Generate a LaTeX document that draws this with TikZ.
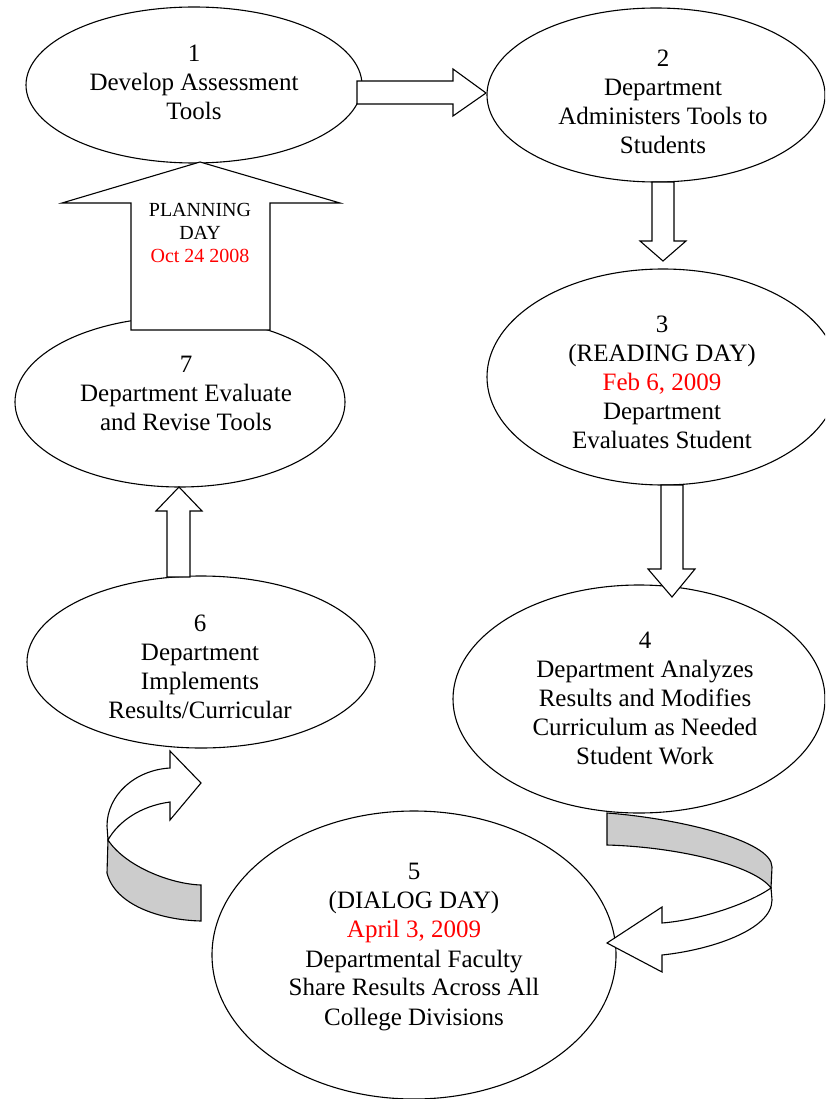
\documentclass[tikz,border=0pt]{standalone}
\usepackage{fontspec}
\setmainfont{Liberation Serif}
\usetikzlibrary{shapes.geometric}
\definecolor{ribbon}{RGB}{204,204,204}
\definecolor{datered}{RGB}{255,0,0}
\begin{document}
\begin{tikzpicture}[x=1pt,y=-1pt,line width=1.1pt,
  bubble/.style={draw,fill=white,ellipse,inner sep=0pt},
  txt/.style={align=center,inner sep=0pt,font=\fontsize{25}{29}\selectfont},
  smalltxt/.style={align=center,inner sep=0pt,font=\fontsize{20}{23}\selectfont},
  blockarrow/.style={draw,fill=white,line join=miter},
  backside/.style={draw,fill=ribbon,line join=miter}]
\useasboundingbox (0,0) rectangle (825,1099);
\clip (0,0) rectangle (825,1099);
% ellipses
\node[bubble,minimum width=336pt,minimum height=156pt] (e1) at (194,85) {};
\node[bubble,minimum width=338pt,minimum height=174pt] (e2) at (656,95) {};
\node[bubble,minimum width=352pt,minimum height=216pt] (e3) at (663,377) {};
\node[bubble,minimum width=372pt,minimum height=228pt] (e4) at (639,699) {};
\node[bubble,minimum width=404pt,minimum height=288pt] (e5) at (414,955) {};
\node[bubble,minimum width=348pt,minimum height=172pt] (e6) at (201,662) {};
\node[bubble,minimum width=330pt,minimum height=170pt] (e7) at (180,402) {};
% texts
\node[txt] (t1) at (194,82) {1\\Develop Assessment\\Tools};
\node[txt] (t2) at (663,102) {2\\Department\\Administers Tools to\\Students};
\node[txt] (t3) at (662,382) {3\\(READING DAY)\\\textcolor{datered}{Feb 6, 2009}\\Department\\Evaluates Student};
\node[txt] (t4) at (645,698) {4\\Department Analyzes\\Results and Modifies\\Curriculum as Needed\\Student Work};
\node[txt] (t5) at (414,947) {5\\(DIALOG DAY)\\\textcolor{datered}{April 3, 2009}\\Departmental Faculty\\Share Results Across All\\College Divisions};
\node[txt] (t6) at (200,667) {6\\Department\\Implements\\Results/Curricular};
\node[txt] (t7) at (186,393) {7\\Department Evaluate\\and Revise Tools};
% straight block arrows
\draw[blockarrow] (357,81) -- (453,81) -- (453,69) -- (486,93) -- (453,116) -- (453,104) -- (357,104) -- cycle;
\draw[blockarrow] (652,182) -- (652,241) -- (640,241) -- (663,261) -- (686,241) -- (674,241) -- (674,182) -- cycle;
\draw[blockarrow] (661,485) -- (661,569) -- (648,569) -- (672,597) -- (695,569) -- (683,569) -- (683,485) -- cycle;
\draw[blockarrow] (167,577) -- (167,511) -- (156,511) -- (179,487) -- (202,511) -- (190,511) -- (190,577) -- cycle;
% planning day arrow
\draw[blockarrow] (131,330) -- (131,203) -- (62,203) -- (200,162) -- (340,203) -- (270,203) -- (270,330) -- cycle;
\node[smalltxt] (tp) at (200,233) {PLANNING\\DAY\\\textcolor{datered}{Oct 24 2008}};
% curved arrow 4 -> 5
\draw[backside] (607,813) .. controls (675,818) and (772,840) .. (772,867) -- (771,888)
  .. controls (755,866) and (680,847) .. (607,845) -- cycle;
\draw[blockarrow] (771,888) .. controls (748,904) and (700,920) .. (662,923) -- (662,907) -- (607,943)
  -- (662,972) -- (662,955) .. controls (710,950) and (772,930) .. (772,900) -- cycle;
% curved arrow 5 -> 6
\draw[backside] (108,840) -- (107,873) .. controls (115,905) and (160,920) .. (201,921) -- (201,885)
  .. controls (170,884) and (125,866) .. (108,840) -- cycle;
\draw[blockarrow] (108,840) -- (107,826) .. controls (107,795) and (135,770) .. (170,768) -- (170,751)
  -- (201,783) -- (170,820) -- (170,802) .. controls (140,806) and (118,822) .. (108,840) -- cycle;
\end{tikzpicture}
\end{document}
